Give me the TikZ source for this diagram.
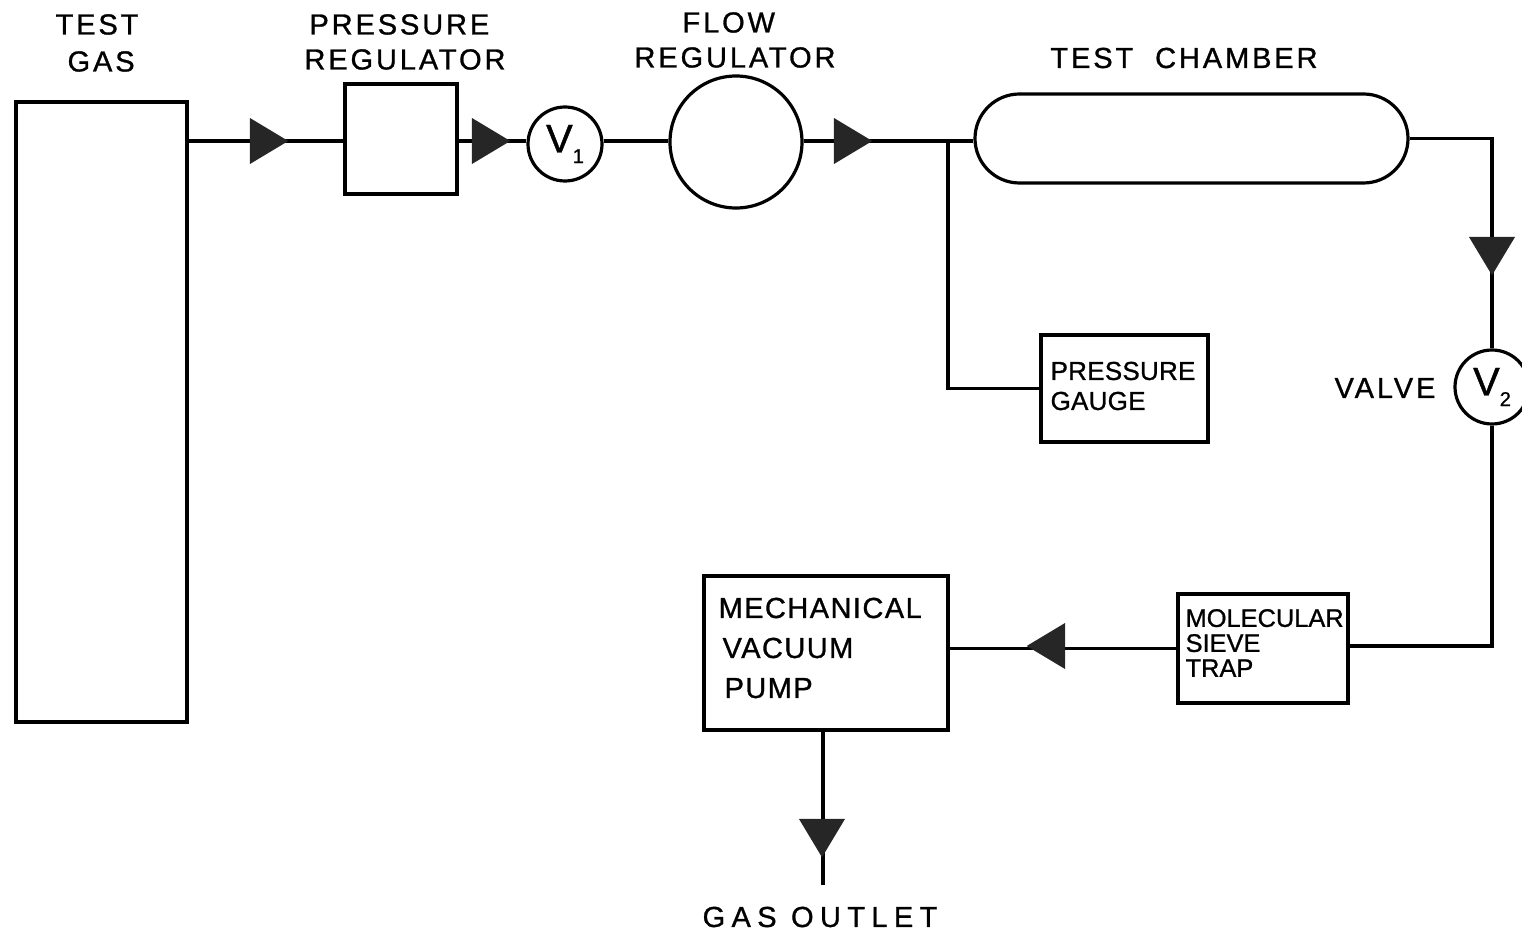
\documentclass[tikz,border=0pt]{standalone}
\usepackage{fontspec}
\setmainfont[FakeBold=1]{Liberation Sans}
\usetikzlibrary{calc, shapes, backgrounds}

\begin{document}
\begin{tikzpicture}[x=0.5pt, y=-0.5pt, line width=1.6pt,
	block/.style={draw, minimum width=0, inner sep=0},
	valve/.style={draw, circle, inner sep=0, minimum size=37pt},
	flowmark/.style={fill=black!85, isosceles triangle, isosceles triangle apex angle=62, inner sep=0, minimum height=18.5pt, minimum width=23pt, shape border rotate=#1},
	lbl/.style={align=left, inner sep=0, font=\fontsize{14.5}{14.5}\selectfont\addfontfeature{LetterSpace=10}},
	smalllbl/.style={align=left, inner sep=0, font=\fontsize{13}{14}\selectfont\addfontfeature{LetterSpace=1}},
	valvelbl/.style={font=\fontsize{20}{20}\selectfont}
	]
	\useasboundingbox (0,0) rectangle (1522,935);
	% boxes
	\draw (16,102) rectangle (187,722);
	\coordinate (gasout) at (187,141);
	\node[block, minimum width=56pt, minimum height=55pt] (regulator) at (401,139) {};
	\node[valve, valvelbl] (vone) at (565,144) {V\raisebox{-0.5ex}{\fontsize{10}{10}\selectfont 1}};
	\node[valve, minimum size=66pt] (flow) at (736,142) {};
	\node[draw, rounded rectangle, minimum width=216.5pt, minimum height=44.5pt, inner sep=0] (chamber) at (1191.5,138.5) {};
	\node[block, minimum width=83.5pt, minimum height=53.5pt] (gauge) at (1124.5,388.5) {};
	\node[valve, valvelbl] (vtwo) at (1492,387) {V\raisebox{-0.5ex}{\fontsize{10}{10}\selectfont 2}};
	\node[block, minimum width=85pt, minimum height=54.5pt] (sieve) at (1263,648.5) {};
	\node[block, minimum width=122pt, minimum height=77pt] (pump) at (826,653) {};
	\coordinate (junction) at (948,141);
	\coordinate (outlet) at (823,885);
	\coordinate (corner) at (1492,646);

	\draw% horizontal lines
	(gasout) -- (regulator.west |- gasout)
	(regulator.east |- gasout) -- (vone.west |- gasout)
	(vone.east |- gasout) -- (flow.west |- gasout)
	(flow.east |- gasout) -- (chamber.west |- gasout)
	(sieve.west) -- (pump.east |- sieve.west);
	\draw% bends
	(chamber.east) -- (chamber.east -| vtwo) -- (vtwo.north)
	(vtwo.south) -- (corner) -- (sieve.east |- corner)
	(junction) -- (junction |- gauge.west) -- (gauge.west)
	(pump.south -| outlet) -- (outlet);

	% draw flow marks
	\foreach \x/\y/\r/\n in {263/141/0/a, 485/141/0/b, 847/141/0/c, 1492/250/270/d, 1052/646/180/e, 822/832/270/f} {
		\node[flowmark=\r] (mark\n) at (\x,\y) {};
	}
	% draw labels
	\foreach \lbl/\x/\y/\n in {{TEST\\[4pt]\hspace*{6pt}GAS}/97/43/a, {\hspace*{2.5pt}PRESSURE\\[3pt]REGULATOR}/405/42/b, {\hspace*{24pt}FLOW\\[3pt]REGULATOR}/735/40/c, {TEST\ \ CHAMBER}/1184/58/d, {VALVE}/1385/388/e} {
		\node[lbl] (label\n) at (\x,\y) {\lbl};
	}
	\node[lbl] (labelf) at (820,917) {\addfontfeature{LetterSpace=22}GAS\ OUTLET};
	\node[smalllbl, anchor=west] (labelg) at (1049,386) {PRESSURE\\[1pt]GAUGE};
	\node[smalllbl, anchor=west, font=\fontsize{12.7}{12.5}\selectfont] (labelh) at (1184,643) {MOLECULAR\\SIEVE\\TRAP};
	\node[lbl, anchor=west, font=\fontsize{14.5}{20}\selectfont\addfontfeature{LetterSpace=5}] (labeli) at (717,648) {MECHANICAL\\\hspace*{2pt}VACUUM\\\hspace*{3pt}PUMP};
\end{tikzpicture}
\end{document}
